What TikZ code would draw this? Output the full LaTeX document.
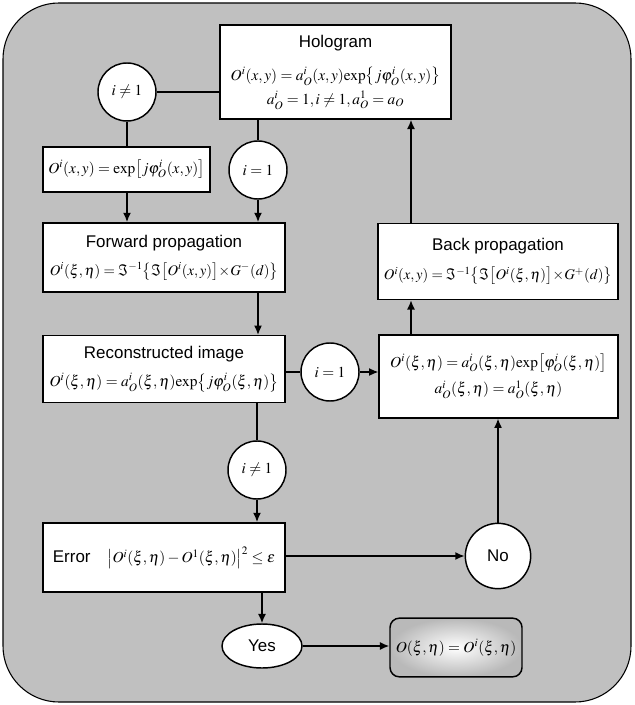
\documentclass[tikz,border=0pt]{standalone}
\usepackage{mathptmx}
\usepackage[no-math]{fontspec}
\setsansfont{Liberation Sans}
\usepackage{xcolor}
\usepackage{tikz}
\usetikzlibrary{arrows.meta, positioning, calc, shapes.geometric}
\definecolor{bgfill}{RGB}{192,192,192}
\newcommand{\mf}{\fontsize{11.5}{14}\selectfont}
\newcommand{\mfs}{\fontsize{11}{13}\selectfont}
\newcommand{\ex}{\mathrm{exp}}

\begin{document}
\begin{tikzpicture}[x=0.75pt, y=-0.75pt, line width=1.1pt, font=\sffamily\fontsize{12.7}{15}\selectfont]
    % Styles
    \tikzstyle{block} = [rectangle, draw, fill=white, align=center, inner sep=2pt]
    \tikzstyle{cond} = [circle, draw, fill=white, minimum size=43.5pt, inner sep=0pt]
    \tikzstyle{line} = [draw]
    \tikzstyle{arrow} = [draw, -{Latex[length=7pt,width=6pt]}]

    \useasboundingbox (0,0) rectangle (634,705);
    % Background
    \draw [fill=bgfill, line width=0.8pt, rounded corners=42pt] (3,3) rectangle (631,702);

    % Nodes
    \node [block, minimum width=173pt, minimum height=70.5pt] (holo) at (335.5,72)
        {Hologram\\[10pt] \mf $O^{i}(x,y)=a_{O}^{i}(x,y)\ex\bigl\{j\varphi_{O}^{i}(x,y)\bigr\}$\\[3pt]
         \mf $a_{O}^{i}=1, i\neq 1, a_{O}^{1}=a_{O}$};
    \node [cond] (ineq1) at (127,92) {\mf $i\neq 1$};
    \node [block, minimum width=125pt, minimum height=34pt] (expbox) at (126.5,169.5)
        {\mf $O^{i}(x,y)=\ex\bigl[j\varphi_{O}^{i}(x,y)\bigr]$};
    \node [cond] (eq1a) at (258,170) {\mf $i=1$};
    \node [block, minimum width=181.5pt, minimum height=52pt] (fwd) at (164,257.5)
        {Forward propagation\\[6pt] \mfs $O^{i}(\xi,\eta)=\Im^{-1}\bigl\{\Im\bigl[O^{i}(x,y)\bigr]\!\times\! G^{-}(d)\bigr\}$};
    \node [block, minimum width=180pt, minimum height=57pt] (back) at (498,261.5)
        {Back propagation\\[7pt] \mfs $O^{i}(x,y)=\Im^{-1}\bigl\{\Im\bigl[O^{i}(\xi,\eta)\bigr]\!\times\! G^{+}(d)\bigr\}$};
    \node [block, minimum width=181.5pt, minimum height=50pt] (recon) at (164,369)
        {Reconstructed image\\[6pt] \mf $O^{i}(\xi,\eta)=a_{O}^{i}(\xi,\eta)\ex\bigl\{j\varphi_{O}^{i}(\xi,\eta)\bigr\}$};
    \node [cond] (eq1b) at (330,372) {\mf $i=1$};
    \node [block, minimum width=179pt, minimum height=62pt] (upd) at (498.5,376.5)
        {\mf $O^{i}(\xi,\eta)=a_{O}^{i}(\xi,\eta)\ex\bigl[\varphi_{O}^{i}(\xi,\eta)\bigr]$\\[5pt]
         \mf $a_{O}^{i}(\xi,\eta)=a_{O}^{1}(\xi,\eta)$};
    \node [cond] (ineq1b) at (257,470) {\mf $i\neq 1$};
    \node [block, minimum width=181.5pt, minimum height=52pt] (err) at (164,557.5)
        {Error\quad \mf $\bigl|O^{i}(\xi,\eta)-O^{1}(\xi,\eta)\bigr|^{2}\leq\varepsilon$};
    \node [cond, minimum size=49pt] (no) at (498,556) {No};
    \node [ellipse, draw, fill=white, minimum width=60pt, minimum height=33pt, inner sep=0pt] (yes) at (262,646) {Yes};
    \node [block, rounded corners=7pt, inner color=white, outer color=gray!55, minimum width=99pt, minimum height=44pt] (final) at (456,647.5)
        {\mf $O(\xi,\eta)=O^{i}(\xi,\eta)$};

    \coordinate (cback) at (411,0);

    % Edges
    \draw [line] (holo.west |- ineq1) -- (ineq1);
    \draw [line] (ineq1) -- (ineq1 |- expbox.north);
    \draw [arrow] (expbox.south -| ineq1) -- (fwd.north -| ineq1);
    \draw [line] (holo.south -| eq1a) -- (eq1a);
    \draw [arrow] (eq1a) -- (eq1a |- fwd.north);
    \draw [arrow] (fwd.south -| eq1a) -- (recon.north -| eq1a);
    \draw [line] (recon.east |- eq1b) -- (eq1b);
    \draw [arrow] (eq1b) -- (eq1b -| upd.west);
    \draw [arrow] (upd.north -| cback) -- (back.south -| cback);
    \draw [arrow] (back.north -| cback) -- (holo.south -| cback);
    \draw [line] (recon.south -| ineq1b) -- (ineq1b);
    \draw [arrow] (ineq1b) -- (ineq1b |- err.north);
    \draw [arrow] (err.east |- no) -- (no);
    \draw [arrow] (no) -- (no |- upd.south);
    \draw [arrow] (err.south -| yes) -- (yes);
    \draw [arrow] (yes) -- (yes -| final.west);
\end{tikzpicture}
\end{document}
